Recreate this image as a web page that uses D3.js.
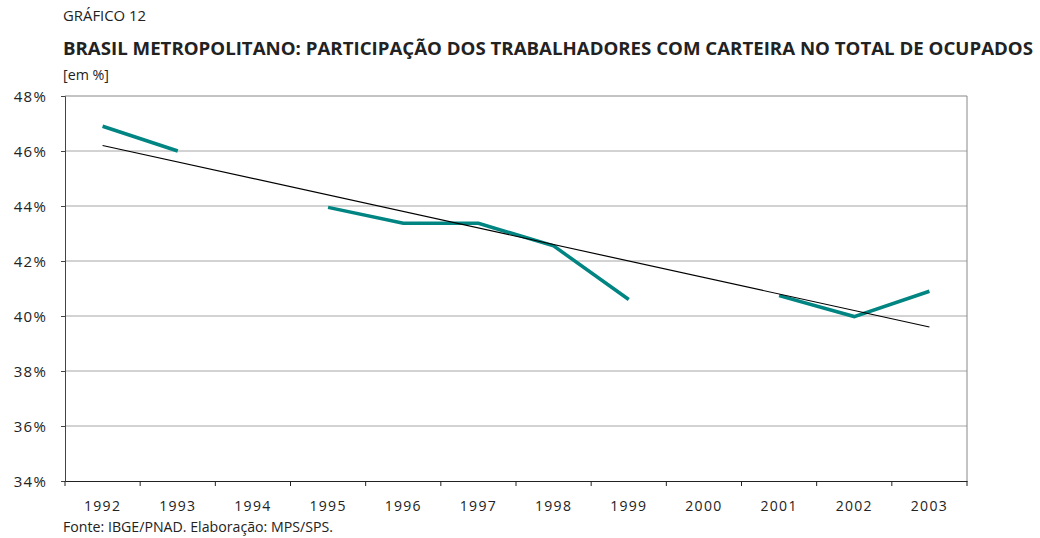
<!DOCTYPE html>
<html><head><meta charset="utf-8">
<script src="https://cdn.jsdelivr.net/npm/d3@7"></script>
<style>body{margin:0;background:#fff}svg{display:block}text{font-family:"Open Sans",sans-serif;fill:#222}</style>
</head><body><svg id="c" width="1040" height="538"></svg>
<script>
const years = ["1992","1993","1994","1995","1996","1997","1998","1999","2000","2001","2002","2003"];
const values = [46.9, 46.0, null, 43.95, 43.37, 43.37, 42.55, 40.6, null, 40.74, 39.98, 40.9];
const trendYears = ["1992","2003"];
const trendValues = [46.2, 39.6];
const yTicks = [34,36,38,40,42,44,46,48];

const svg = d3.select("#c");
const L=65, R=967, T=96, B=481;
const x = d3.scaleBand().domain(years).range([L,R]);
const y = d3.scaleLinear().domain([34,48]).range([B,T]);

// grid
svg.append("g").selectAll("line").data(yTicks.filter(t=>t>34)).join("line")
  .attr("x1",L).attr("x2",R).attr("y1",d=>y(d)).attr("y2",d=>y(d))
  .attr("stroke",d=>d===48?"#888":"#a6a6a6").attr("stroke-width",1);
// right border
svg.append("line").attr("x1",R).attr("x2",R).attr("y1",T).attr("y2",B).attr("stroke","#888");

// y axis
const ya = svg.append("g").attr("transform",`translate(${L},0)`)
  .call(d3.axisLeft(y).tickValues(yTicks).tickSize(4).tickFormat(d=>d+"%"));
ya.select(".domain").attr("stroke","#444");
ya.selectAll(".tick line").attr("stroke","#444");
ya.selectAll("text").attr("font-size",15).attr("x",-18).attr("dy","0.35em").style("font-family","Open Sans").attr("fill","#222")
  .style("letter-spacing","1.2px");

// x axis
const xa = svg.append("g").attr("transform",`translate(0,${B})`)
  .call(d3.axisBottom(x).tickSize(0).tickPadding(20));
xa.select(".domain").attr("stroke","#222");
xa.selectAll("text").attr("font-size",14).style("font-family","Open Sans").attr("fill","#222").style("letter-spacing","1.3px");
svg.append("g").selectAll("line").data(years.concat(["end"])).join("line")
  .attr("x1",(d,i)=>L+i*x.step()).attr("x2",(d,i)=>L+i*x.step())
  .attr("y1",B).attr("y2",B+5).attr("stroke","#222");

// series
const line = d3.line().defined(d=>d[1]!=null).x(d=>x(d[0])+x.bandwidth()/2).y(d=>y(d[1]));
svg.append("path").datum(years.map((yr,i)=>[yr,values[i]]))
  .attr("d",line).attr("fill","none").attr("stroke","#008583").attr("stroke-width",3.5);
// trend
svg.append("path").datum(trendYears.map((yr,i)=>[yr,trendValues[i]]))
  .attr("d",line).attr("fill","none").attr("stroke","#000").attr("stroke-width",1.2);

// texts
svg.append("text").attr("x",63).attr("y",21).attr("font-size",15).attr("fill","#333")
  .attr("textLength",83).attr("lengthAdjust","spacingAndGlyphs").text("GRÁFICO 12");
svg.append("text").attr("x",63).attr("y",55).attr("font-size",17).attr("font-weight","bold").attr("fill","#111")
  .attr("textLength",970).attr("lengthAdjust","spacingAndGlyphs")
  .text("BRASIL METROPOLITANO: PARTICIPAÇÃO DOS TRABALHADORES COM CARTEIRA NO TOTAL DE OCUPADOS");
svg.append("text").attr("x",63).attr("y",80).attr("font-size",15).attr("fill","#333")
  .attr("textLength",46).attr("lengthAdjust","spacingAndGlyphs").text("[em %]");
svg.append("text").attr("x",63).attr("y",532).attr("font-size",15).attr("fill","#333")
  .attr("textLength",270).attr("lengthAdjust","spacingAndGlyphs").text("Fonte: IBGE/PNAD. Elaboração: MPS/SPS.");
</script></body></html>
